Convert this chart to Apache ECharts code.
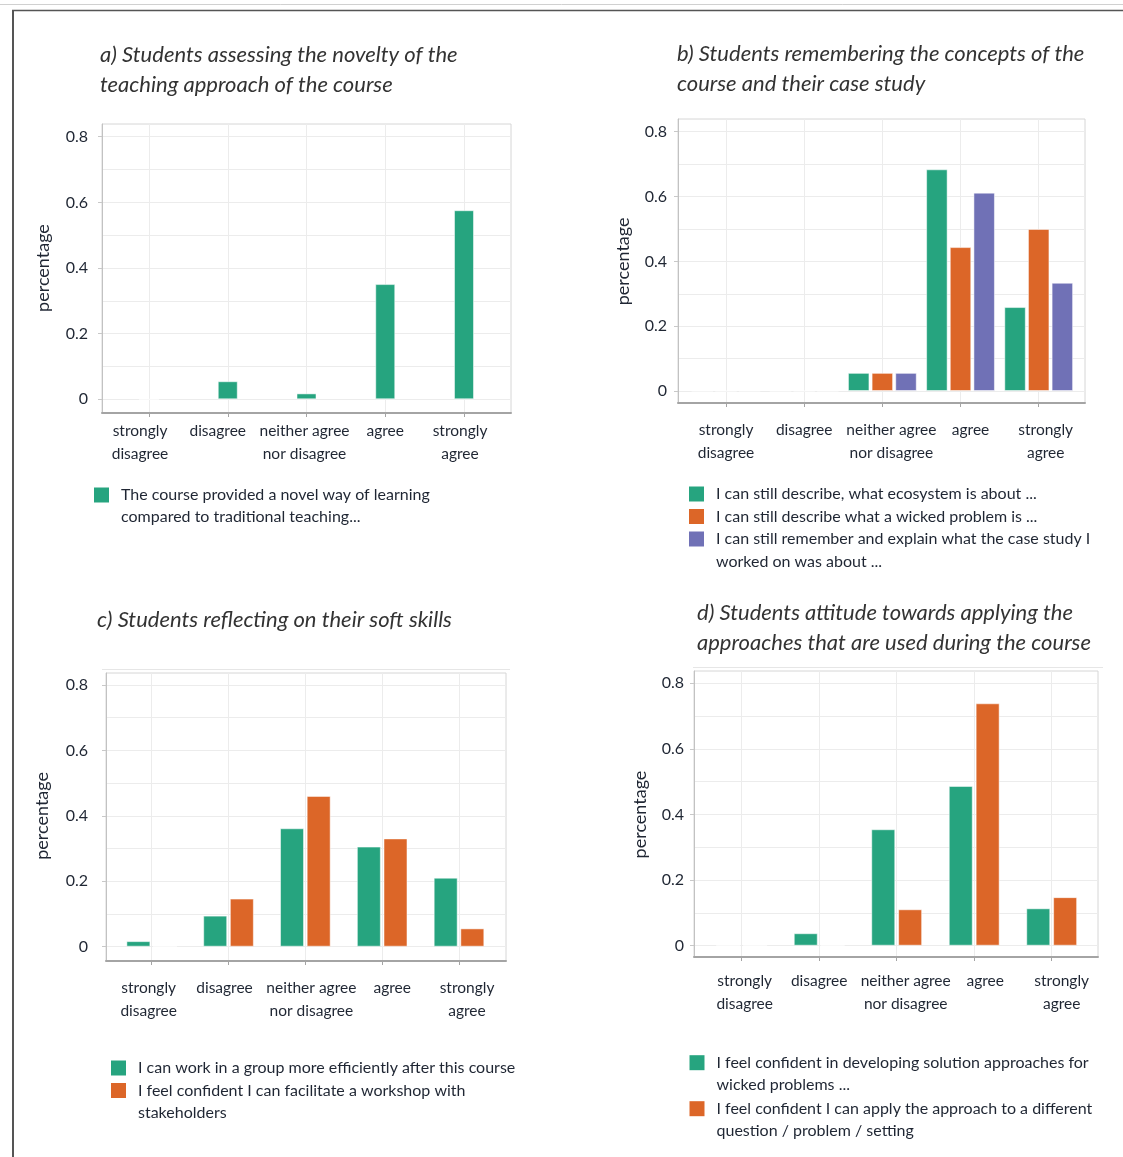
<!DOCTYPE html>
<html>
<head>
<meta charset="utf-8">
<script src="https://cdn.jsdelivr.net/npm/echarts@6/dist/echarts.min.js"></script>
<style>
  html, body { margin: 0; padding: 0; background: #ffffff; }
  #chart { width: 1123px; height: 1157px; }
</style>
</head>
<body>
<div id="chart"></div>
<script>
// ---- survey data: share of answers per Likert category ----
const categories = ['strongly\ndisagree', 'disagree', 'neither agree\nnor disagree', 'agree', 'strongly\nagree'];
const yTicks = [0, 0.2, 0.4, 0.6, 0.8];

const titleA = 'a) Students assessing the novelty of the\nteaching approach of the course';
const namesA = ['The course provided a novel way of learning\ncompared to traditional teaching...'];
const novelty = [0, 0.055, 0.018, 0.351, 0.576];

const titleB = 'b) Students remembering the concepts of the\ncourse and their case study';
const namesB = [
  'I can still describe, what ecosystem is about ...',
  'I can still describe what a wicked problem is ...',
  'I can still remember and explain what the case study I\nworked on was about ...'
];
const ecosystem = [0, 0, 0.056, 0.684, 0.259];
const wickedProblem = [0, 0, 0.056, 0.444, 0.5];
const caseStudy = [0, 0, 0.056, 0.612, 0.334];

const titleC = 'c) Students reflecting on their soft skills';
const namesC = [
  'I can work in a group more efficiently after this course',
  'I feel confident I can facilitate a workshop with\nstakeholders'
];
const groupWork = [0.017, 0.095, 0.362, 0.306, 0.211];
const workshop = [0, 0.147, 0.461, 0.331, 0.056];

const titleD = 'd) Students attitude towards applying the\napproaches that are used during the course';
const namesD = [
  'I feel confident in developing solution approaches for\nwicked problems ...',
  'I feel confident I can apply the approach to a different\nquestion / problem / setting'
];
const solutionApproaches = [0, 0.038, 0.355, 0.487, 0.114];
const applyElsewhere = [0, 0, 0.111, 0.739, 0.148];

// ---- styling ----
const FONT = 'Lato, "Open Sans", sans-serif';
const GREEN = '#26a47f';
const ORANGE = '#dc6628';
const PURPLE = '#7071b6';
const TEXT = '#1f2633';
const GRIDLINE = '#ececec';
const CAT_FONT = 15.5;

// pixel layout of the four panels (labelShift nudges each category label sideways)
const panels = [
  { title: titleA, tx: 100, ty: 40, frame: [102, 511, 124, 413], zeroY: 399.3, topY: 136.7,
    cats: [149, 464], catMargin: 6, labelShift: [-9, -10, -2, 0, -4],
    yMargin: 14, nameGap: 50, barWidth: 20, barGap: '10%',
    series: [{ name: namesA[0], data: novelty, color: GREEN }],
    legendX: 94, legendY: [495], lh: 22 },
  { title: titleB, tx: 677, ty: 39, frame: [678, 1085, 119, 403], zeroY: 391, topY: 131.7,
    cats: [726, 1038.7], catMargin: 15, labelShift: [0, 0, 9, 10, 7],
    yMargin: 11, nameGap: 46, barWidth: 21.5, barGap: '10%',
    series: [{ name: namesB[0], data: ecosystem, color: GREEN },
             { name: namesB[1], data: wickedProblem, color: ORANGE },
             { name: namesB[2], data: caseStudy, color: PURPLE }],
    legendX: 689, legendY: [494, 516.5, 539], lh: 22.5 },
  { title: titleC, tx: 97, ty: 605, frame: [106, 506, 673, 961], zeroY: 946.7, topY: 685,
    cats: [151.7, 459], catMargin: 15.5, labelShift: [-3, -4, 6, 10, 8],
    yMargin: 18, nameGap: 55, barWidth: 24, barGap: '11%',
    series: [{ name: namesC[0], data: groupWork, color: GREEN },
             { name: namesC[1], data: workshop, color: ORANGE }],
    legendX: 111, legendY: [1068, 1090.5], lh: 22.6 },
  { title: titleD, tx: 697, ty: 598, frame: [694, 1098, 671, 957], zeroY: 945.7, topY: 683.3,
    cats: [741.7, 1051.7], catMargin: 12.5, labelShift: [3, 0, 9, 11, 10],
    yMargin: 10, nameGap: 45, barWidth: 24, barGap: '12%',
    series: [{ name: namesD[0], data: solutionApproaches, color: GREEN },
             { name: namesD[1], data: applyElsewhere, color: ORANGE }],
    legendX: 689.5, legendY: [1062.7, 1108.7], lh: 22.6 }
];

const option = {
  backgroundColor: '#ffffff',
  animation: false,
  grid: [], xAxis: [], yAxis: [], series: [], title: [], legend: [],
  graphic: [
    { type: 'line', shape: { x1: 0, y1: 4.5, x2: 1123, y2: 4.5 }, style: { stroke: '#d0d0d0', lineWidth: 1 }, silent: true },
    { type: 'line', shape: { x1: 12, y1: 10.5, x2: 1123, y2: 10.5 }, style: { stroke: '#555555', lineWidth: 1.5 }, silent: true },
    { type: 'line', shape: { x1: 13, y1: 10, x2: 13, y2: 1157 }, style: { stroke: '#555555', lineWidth: 2 }, silent: true },
    { type: 'line', shape: { x1: 102, y1: 669.5, x2: 510, y2: 669.5 }, style: { stroke: '#e6e6e6', lineWidth: 1 }, silent: true },
    { type: 'line', shape: { x1: 693, y1: 667.5, x2: 1103, y2: 667.5 }, style: { stroke: '#e6e6e6', lineWidth: 1 }, silent: true }
  ]
};

function addGrid(g) {
  option.grid.push(Object.assign({ containLabel: false, outerBoundsMode: 'none' }, g));
  return option.grid.length - 1;
}

panels.forEach(p => {
  const [x0, x1, y0, y1] = p.frame;
  const ppu = (p.zeroY - p.topY) / 0.8;

  // plot frame with its darker bottom and left edges
  const gFrame = addGrid({ left: x0, top: y0, width: x1 - x0, height: y1 - y0, show: true,
    borderColor: '#d6d6d6', borderWidth: 1, backgroundColor: 'transparent' });
  option.xAxis.push({ gridIndex: gFrame, type: 'value', min: 0, max: 1,
    axisLine: { show: true, onZero: false, lineStyle: { color: '#a4a4a4', width: 2 } },
    axisTick: { show: false }, axisLabel: { show: false }, splitLine: { show: false } });
  option.yAxis.push({ gridIndex: gFrame, type: 'value', min: 0, max: 1,
    axisLine: { show: true, onZero: false, lineStyle: { color: '#c2c2c2', width: 1 } },
    axisTick: { show: false }, axisLabel: { show: false }, splitLine: { show: false } });

  // value scale: labels every 0.2, grid lines every 0.1
  const gVal = addGrid({ left: x0, top: p.topY, width: x1 - x0, height: p.zeroY - p.topY });
  option.xAxis.push({ gridIndex: gVal, type: 'value', min: 0, max: 1, show: false });
  option.yAxis.push({ gridIndex: gVal, type: 'value', min: 0, max: 0.8, interval: 0.2,
    name: 'percentage', nameLocation: 'middle', nameRotate: 90, nameGap: p.nameGap,
    nameTextStyle: { fontFamily: FONT, fontSize: 18, lineHeight: 18, color: TEXT },
    axisLine: { show: false },
    axisTick: { show: true, length: 4, lineStyle: { color: '#c8c8c8' } },
    axisLabel: { margin: p.yMargin, fontFamily: FONT, fontSize: 16, color: TEXT,
      formatter: v => { const t = yTicks.find(t => Math.abs(t - v) < 1e-6); return t === undefined ? '' : String(t); } },
    splitLine: { show: true, lineStyle: { color: GRIDLINE, width: 1 } },
    minorTick: { show: false, splitNumber: 2 },
    minorSplitLine: { show: true, lineStyle: { color: GRIDLINE, width: 1 } } });

  // category scale spanning the first to last answer option
  const rich = {};
  p.labelShift.forEach((dx, i) => {
    rich['s' + i] = { fontFamily: FONT, fontSize: CAT_FONT, lineHeight: 23, color: TEXT,
      padding: dx >= 0 ? [0, 0, 0, 2 * dx] : [0, -2 * dx, 0, 0] };
  });
  const gBar = addGrid({ left: p.cats[0], top: y0, width: p.cats[1] - p.cats[0], height: y1 - y0 });
  option.xAxis.push({ gridIndex: gBar, type: 'category', data: categories, boundaryGap: false,
    axisLine: { show: false, onZero: false },
    axisTick: { show: true, inside: false, length: 4, alignWithLabel: true, lineStyle: { color: '#a4a4a4' } },
    axisLabel: { interval: 0, hideOverlap: false, margin: p.catMargin, fontFamily: FONT, fontSize: CAT_FONT,
      lineHeight: 23, color: TEXT, rich: rich,
      formatter: (value, index) => value.split('\n').map(l => '{s' + index + '|' + l + '}').join('\n') },
    splitLine: { show: true, interval: 0, lineStyle: { color: GRIDLINE, width: 1 } } });
  option.yAxis.push({ gridIndex: gBar, type: 'value', show: false,
    min: -(y1 - p.zeroY) / ppu, max: (p.zeroY - y0) / ppu, splitLine: { show: false } });

  p.series.forEach((s, i) => {
    option.series.push({
      type: 'bar', name: s.name, data: s.data, xAxisIndex: gBar, yAxisIndex: gBar,
      barWidth: p.barWidth, barGap: p.barGap, clip: false,
      itemStyle: { color: s.color, borderColor: 'rgba(255,255,255,0.5)', borderWidth: 1 },
      emphasis: { disabled: true }, silent: true
    });
    // one legend entry per series; top padding keeps the first text line level with the swatch
    const lines = s.name.split('\n').length;
    option.legend.push({
      data: [s.name], left: p.legendX, top: p.legendY[i] - p.lh * (2 * lines - 1) / 2,
      orient: 'horizontal', padding: 0, itemWidth: 15, itemHeight: 15, icon: 'rect',
      selectedMode: false,
      itemStyle: { borderWidth: 0 },
      formatter: name => name.split('\n').map(l => '{t|' + l + '}').join('\n'),
      textStyle: { fontFamily: FONT, fontSize: 16, lineHeight: p.lh, color: TEXT,
        padding: [p.lh * (lines - 1), 0, 0, 7],
        rich: { t: { fontFamily: FONT, fontSize: 16, lineHeight: p.lh, color: TEXT } } }
    });
  });

  option.title.push({ text: p.title, left: p.tx, top: p.ty, padding: 0,
    textStyle: { fontFamily: FONT, fontSize: 22, fontStyle: 'italic', fontWeight: 'normal',
      color: '#333333', lineHeight: 30 } });
});

const chart = echarts.init(document.getElementById('chart'), null, { renderer: 'canvas', width: 1123, height: 1157 });
chart.setOption(option);
</script>
</body>
</html>
